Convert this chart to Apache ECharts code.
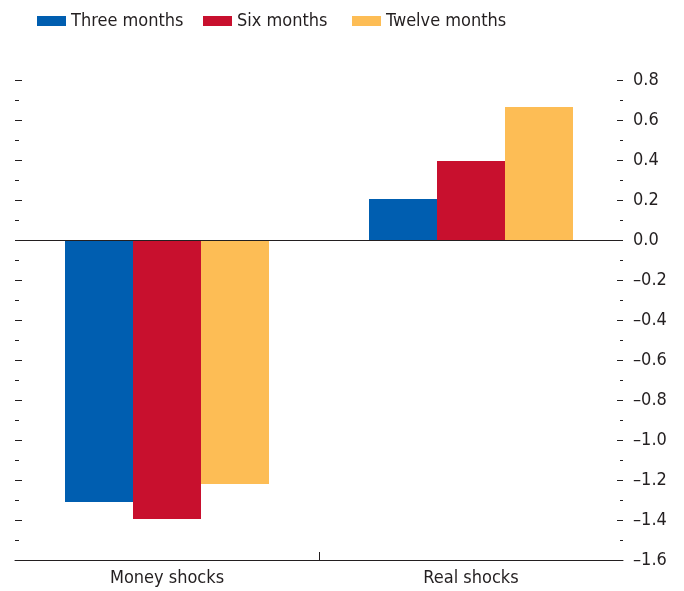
<!DOCTYPE html>
<html>
<head>
<meta charset="utf-8">
<script src="https://cdn.jsdelivr.net/npm/echarts@6/dist/echarts.min.js"></script>
<style>
  html, body { margin: 0; padding: 0; background: #fff; }
  #chart { width: 684px; height: 591px; }
</style>
</head>
<body>
<div id="chart"></div>
<script>
var categories = ['Money shocks', 'Real shocks'];
var threeMonths = [-1.31, 0.205];
var sixMonths = [-1.395, 0.395];
var twelveMonths = [-1.22, 0.665];
var seriesNames = ['Three months', 'Six months', 'Twelve months'];
var colors = ['#005EB0', '#C8102E', '#FDBD55'];

var font = '"DejaVu Sans Condensed", "Liberation Sans", Arial, sans-serif';
var ink = '#231F20';

function fmt(v) {
    return v.toFixed(1).replace('-', '\u2013');
}

// one legend per item so the swatches sit where the reference has them
var legendLeft = [32, 198, 347];
var legends = [];
for (var i = 0; i < seriesNames.length; i++) {
    legends.push({
        left: legendLeft[i],
        top: 7,
        itemWidth: 29,
        itemHeight: 10,
        icon: 'rect',
        textStyle: { fontFamily: font, fontSize: 18, color: ink },
        data: [seriesNames[i]]
    });
}

var chart = echarts.init(document.getElementById('chart'));

var opt = {
    animation: false,
    color: colors,
    textStyle: { fontFamily: font },
    legend: legends,
    grid: { left: 15, right: 61, top: 80, bottom: 31 },
    xAxis: [{
        type: 'category',
        data: categories,
        position: 'bottom',
        axisLine: { onZero: false, lineStyle: { color: ink, width: 1 } },
        axisTick: { show: false },
        axisLabel: { fontFamily: font, fontSize: 18, color: ink, margin: 9 }
    }, {
        type: 'value',
        min: 0, max: 2,
        position: 'bottom',
        axisLine: { show: false, onZero: false },
        axisLabel: { show: false },
        splitLine: { show: false },
        axisTick: { show: true, inside: true, length: 8, customValues: [1], lineStyle: { color: ink } }
    }],
    yAxis: [{
        type: 'value',
        position: 'left',
        min: -1.6, max: 0.8, interval: 0.2,
        axisLine: { show: false },
        axisLabel: { show: false },
        splitLine: { show: false },
        axisTick: { show: true, inside: true, length: 7, lineStyle: { color: ink } },
        minorTick: { show: true, splitNumber: 2, length: 4, lineStyle: { color: ink } }
    }, {
        type: 'value',
        position: 'right',
        min: -1.6, max: 0.8, interval: 0.2,
        axisLine: { show: false },
        splitLine: { show: false },
        axisTick: { show: true, inside: true, length: 6, lineStyle: { color: ink } },
        minorTick: { show: true, splitNumber: 2, length: 3, lineStyle: { color: ink } },
        axisLabel: { fontFamily: font, fontSize: 18, color: ink, margin: 10, formatter: fmt }
    }],
    series: [{
        name: seriesNames[0],
        type: 'bar',
        barWidth: 68,
        barGap: '0%',
        data: threeMonths,
        markLine: {
            silent: true,
            symbol: 'none',
            label: { show: false },
            lineStyle: { color: ink, width: 1, type: 'solid' },
            data: [{ yAxis: 0 }]
        }
    }, {
        name: seriesNames[1],
        type: 'bar',
        barWidth: 68,
        barGap: '0%',
        data: sixMonths
    }, {
        name: seriesNames[2],
        type: 'bar',
        barWidth: 68,
        barGap: '0%',
        data: twelveMonths
    }]
};

chart.setOption(opt);
</script>
</body>
</html>
